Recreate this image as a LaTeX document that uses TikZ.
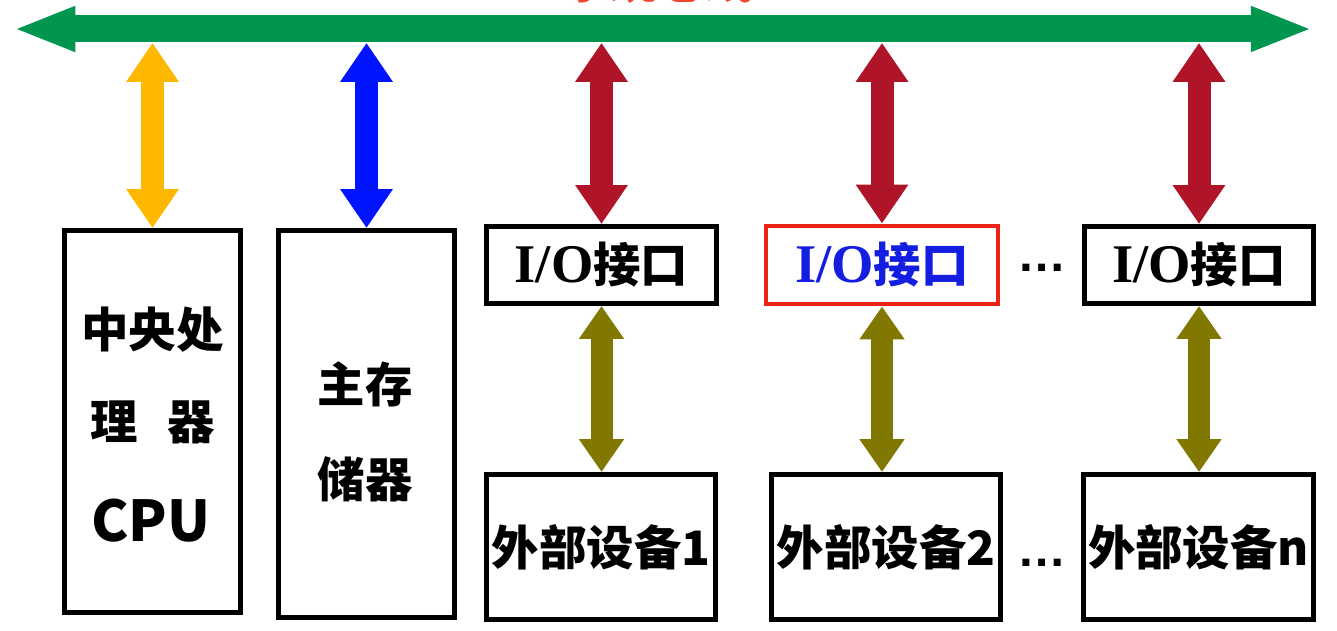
\documentclass[tikz,border=0pt]{standalone}
\usepackage{fontspec}
\newfontfamily\cjk{Noto Sans CJK SC}
\newfontfamily\serifio{Liberation Serif}
\newfontfamily\dotsfont{Liberation Sans}
\usetikzlibrary{arrows.meta}
\definecolor{busgreen}{RGB}{0,150,80}
\definecolor{cpuyellow}{RGB}{255,184,0}
\definecolor{memblue}{RGB}{0,20,255}
\definecolor{iored}{RGB}{175,20,40}
\definecolor{devolive}{RGB}{128,120,0}
\definecolor{boxred}{RGB}{235,35,20}
\definecolor{textblue}{RGB}{20,30,225}
\definecolor{titlered}{RGB}{240,70,50}
\tikzset{
  box/.style={draw=black, line width=2.8pt, fill=white, inner sep=0pt},
  cjktext/.style={font=\cjk\bfseries\fontsize{27}{30}\selectfont},
  cputext/.style={font=\cjk\bfseries\fontsize{32}{36}\selectfont},
  dotstext/.style={font=\dotsfont\bfseries\fontsize{28}{30}\selectfont},
  busarrow/.style={line width=0.54cm, busgreen, line cap=butt,
    {Triangle[length=1.24cm,width=0.82cm]}-{Triangle[length=1.24cm,width=0.82cm]}},
  vbus/.style={line width=0.46cm, line cap=butt,
    {Triangle[length=0.78cm,width=1.0cm]}-{Triangle[length=0.78cm,width=1.0cm]}},
  vdev/.style={line width=0.44cm, devolive, line cap=butt,
    {Triangle[length=0.66cm,width=0.86cm]}-{Triangle[length=0.66cm,width=0.86cm]}}
}
\newcommand\iotext{{\serifio\fontsize{31}{34}\selectfont I/O}{\cjk 接口}}
\begin{document}
\begin{tikzpicture}[x=0.02cm,y=-0.02cm]
\useasboundingbox (0,0) rectangle (1337,631);
\fill[white] (0,0) rectangle (1337,631);

% title (cut off at top, as in the reference)
\begin{scope}
\clip (0,0) rectangle (1337,631);
\node[cjktext, text=titlered] (title) at (658,-20) {系统总线};
\end{scope}

% bus
\node[inner sep=0pt, minimum width=25.98cm, minimum height=0.54cm] (bus) at (663,29) {};
\draw[busarrow] (bus.west) -- (bus.east);

% boxes
\node[box, minimum width=3.52cm, minimum height=7.64cm] (cpu) at (152.5,421.5) {};
\node[cjktext] (cpu1) at (152.5,330) {中央处};
\node[cjktext] (cpu2) at (152.5,422) {理\hspace{0.62em}器};
\node[cputext] (cpu3) at (151,521) {CPU};

\node[box, minimum width=3.52cm, minimum height=7.74cm] (mem) at (366.5,424) {};
\node[cjktext] (mem1) at (365,384) {主存};
\node[cjktext] (mem2) at (365,479) {储器};

\node[box, cjktext, minimum width=4.6cm, minimum height=1.54cm] (io1) at (601.5,265) {\iotext};
\node[box, cjktext, draw=boxred, text=textblue, minimum width=4.64cm, minimum height=1.56cm] (io2) at (882,265) {\iotext};
\node[box, cjktext, minimum width=4.58cm, minimum height=1.54cm] (io3) at (1199,265) {\iotext};

\node[box, cjktext, minimum width=4.58cm, minimum height=2.9cm] (dev1) at (601,547) {外部设备1};
\node[box, cjktext, minimum width=4.58cm, minimum height=2.9cm] (dev2) at (886,547) {外部设备2};
\node[box, cjktext, minimum width=4.6cm, minimum height=2.9cm] (devn) at (1198.5,547) {外部设备n};

\node[dotstext] (dots1) at (1042,268) {…};
\node[dotstext] (dots2) at (1042,563) {…};

% bus connectors
\draw[vbus, cpuyellow] (bus.south -| cpu.north) -- (cpu.north);
\draw[vbus, memblue] (bus.south -| mem.north) -- (mem.north);
\draw[vbus, iored] (bus.south -| io1.north) -- (io1.north);
\draw[vbus, iored] (bus.south -| io2.north) -- (io2.north);
\draw[vbus, iored] (bus.south -| io3.north) -- (io3.north);

% device connectors
\draw[vdev] (io1.south) -- (io1.south |- dev1.north);
\draw[vdev] (io2.south) -- (io2.south |- dev2.north);
\draw[vdev] (io3.south) -- (io3.south |- devn.north);
\end{tikzpicture}
\end{document}
